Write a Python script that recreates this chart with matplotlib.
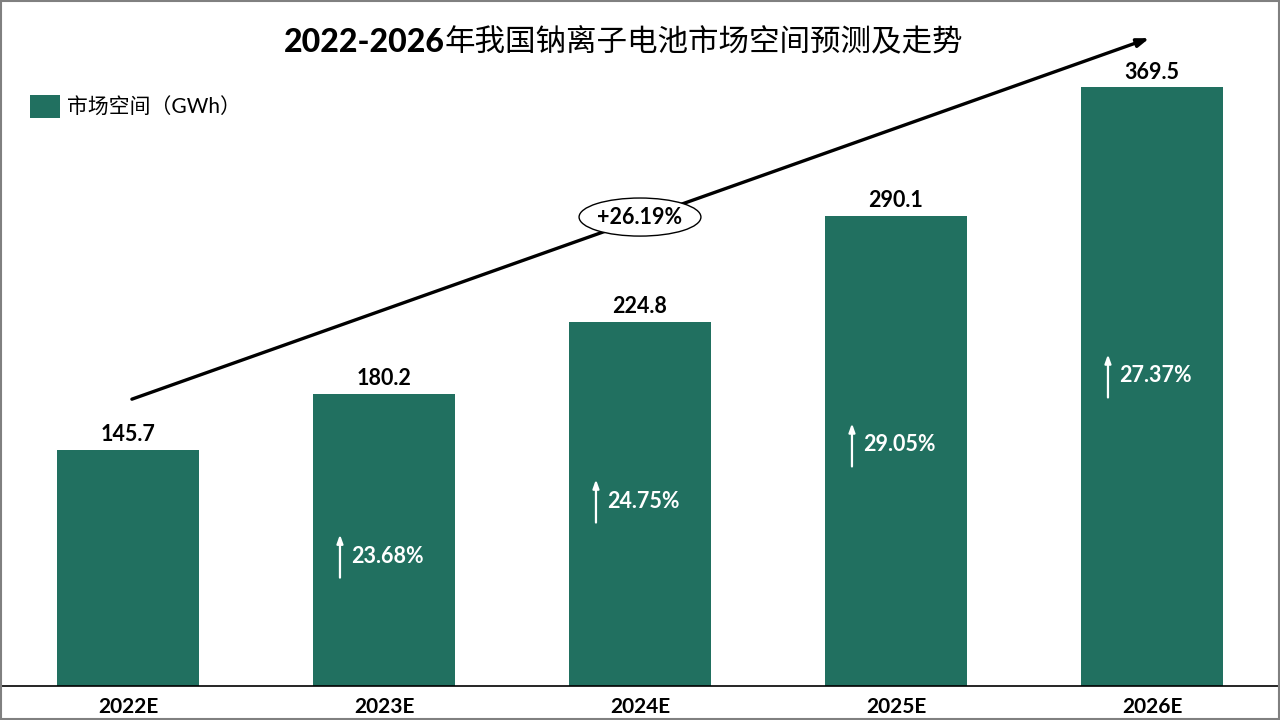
import numpy as np
import matplotlib.pyplot as plt
from matplotlib.patches import Ellipse, Rectangle

plt.rcParams['font.family'] = ['Lato', 'Noto Sans CJK SC', 'DejaVu Sans']

# dados
anos = ['2022E', '2023E', '2024E', '2025E', '2026E']
mercado = [145.7, 180.2, 224.8, 290.1, 369.5]
crescimento = ['', '23.68%', '24.75%', '29.05%', '27.37%']
cagr = '+26.19%'
titulo_num = '2022-2026'
titulo_txt = '年我国钠离子电池市场空间预测及走势'
legenda = '市场空间（GWh）'

cor = '#217060'

fig = plt.figure(figsize=(12.8, 7.2), dpi=100, facecolor='white')
ax = fig.add_axes([0, 34/720, 1, 686/720])

x = np.arange(len(anos))
ax.bar(x, mercado, width=0.555, color=cor, zorder=2)

ax.set_xlim(-0.5, len(anos) - 0.5)
ax.set_ylim(0, 423.5)
ax.set_yticks([])
ax.set_xticks(x)
ax.set_xticklabels(anos, fontsize=15, fontweight='bold')
ax.tick_params(axis='x', length=0, pad=8)
for s in ['top', 'left', 'right']:
    ax.spines[s].set_visible(False)
ax.spines['bottom'].set_linewidth(1.2)

# valores em cima das barras
for xi, v in zip(x, mercado):
    ax.text(xi, v + 9.5, '%.1f' % v, ha='center', va='center',
            fontsize=15.5, fontweight='bold', color='black', zorder=4)

# setas de crescimento dentro das barras
frac = [0, 0.445, 0.508, 0.513, 0.518]
for xi, v, g, f in zip(x, mercado, crescimento, frac):
    if g == '':
        continue
    yc = v * f
    ax.annotate('', xy=(xi - 0.172, yc + 15), xytext=(xi - 0.172, yc - 15),
                arrowprops=dict(arrowstyle='-|>,head_width=0.18,head_length=0.5',
                                color='white', lw=1.6), zorder=4)
    ax.text(xi - 0.128, yc, g, ha='left', va='center', fontsize=15.5,
            fontweight='bold', color='white', zorder=4)

# seta de tendencia
ax.annotate('', xy=(4.0, 400.5), xytext=(0.005, 176.5),
            arrowprops=dict(arrowstyle='-|>,head_width=0.25,head_length=0.7',
                            color='black', lw=2.4), zorder=3)

# elipse com CAGR
ax.add_patch(Ellipse((2.0, 289.5), 0.476, 23.5, facecolor='white',
                     edgecolor='black', lw=1.0, zorder=5))
ax.text(2.0, 289.5, cagr, ha='center', va='center', fontsize=15.5,
        fontweight='bold', zorder=6)

# titulo (numeros em negrito, texto chines normal)
ty = 1 - 42/720
t1 = fig.text(284/1280, ty, titulo_num, ha='left', va='center',
              fontsize=23, fontweight='black')
fig.canvas.draw()
bb = t1.get_window_extent()
fig.text(bb.x1/1280, ty, titulo_txt, ha='left', va='center',
         fontsize=22, fontweight='medium', family='Noto Sans CJK SC')

# legenda
fig.patches.append(Rectangle((30/1280, 1 - 118/720), 30/1280, 23/720,
                             transform=fig.transFigure, facecolor=cor,
                             edgecolor='none'))
fig.text(67/1280, 1 - 107/720, legenda, ha='left', va='center', fontsize=15)

# borda
fig.patches.append(Rectangle((0.0005, 0.0008), 0.999, 0.998,
                             transform=fig.transFigure, facecolor='none',
                             edgecolor='#808080', lw=1.5))

fig.savefig('out.png', dpi=100, facecolor='white')
